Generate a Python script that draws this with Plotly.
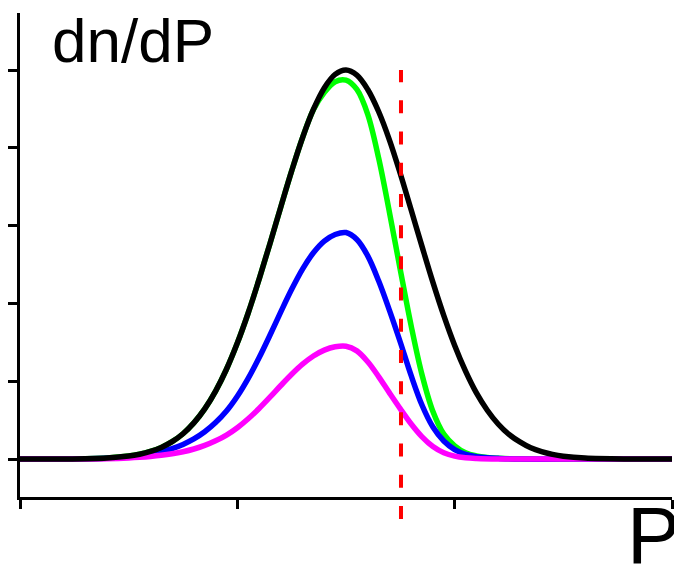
import plotly.graph_objects as go

# ---------------- data ----------------
# P axis: ticks at 0,1,2,3 ; dn/dP axis: ticks at 0..5
x_ticks = [0, 1, 2, 3]
y_ticks = [0, 1, 2, 3, 4, 5]

black_P = [0.0, 0.2, 0.4, 0.5, 0.55, 0.6, 0.65, 0.7, 0.75, 0.8, 0.85, 0.9, 0.95, 1.0,
           1.05, 1.1, 1.15, 1.2, 1.25, 1.3, 1.35, 1.4, 1.45, 1.5, 1.55, 1.6, 1.65,
           1.7, 1.75, 1.8, 1.85, 1.9, 1.95, 2.0, 2.05, 2.1, 2.15, 2.2, 2.25, 2.3,
           2.35, 2.4, 2.45, 2.5, 2.6, 2.8, 3.0]
black_n = [0.0, 0.001, 0.014, 0.038, 0.062, 0.098, 0.149, 0.223, 0.325, 0.464, 0.644, 0.873, 1.154, 1.49,
           1.877, 2.31, 2.768, 3.24, 3.703, 4.13, 4.493, 4.77, 4.944, 5.0, 4.934, 4.75, 4.467,
           4.10, 3.667, 3.20, 2.73, 2.27, 1.843, 1.46, 1.13, 0.85, 0.627, 0.45, 0.316, 0.22,
           0.144, 0.094, 0.06, 0.037, 0.013, 0.001, 0.0]

green_P = [0.0, 0.2, 0.4, 0.5, 0.55, 0.6, 0.65, 0.7, 0.75, 0.8, 0.85, 0.9, 0.95, 1.0,
           1.05, 1.1, 1.15, 1.2, 1.25, 1.3, 1.35, 1.4, 1.45, 1.5, 1.55, 1.6, 1.65,
           1.7, 1.75, 1.8, 1.85, 1.9, 1.95, 2.0, 2.05, 2.1, 2.15, 2.2, 2.3, 2.6, 3.0]
green_n = [0.0, 0.001, 0.014, 0.038, 0.062, 0.098, 0.149, 0.223, 0.325, 0.464, 0.644, 0.873, 1.154, 1.49,
           1.877, 2.31, 2.768, 3.24, 3.703, 4.13, 4.49, 4.71, 4.85, 4.87, 4.75, 4.43, 3.87,
           3.17, 2.43, 1.71, 1.08, 0.61, 0.32, 0.17, 0.08, 0.04, 0.02, 0.01, 0.0, 0.0, 0.0]

blue_P = [0.0, 0.2, 0.4, 0.5, 0.55, 0.6, 0.65, 0.7, 0.75, 0.8, 0.85, 0.9, 0.95, 1.0,
          1.05, 1.1, 1.15, 1.2, 1.25, 1.3, 1.35, 1.4, 1.45, 1.5, 1.55, 1.6, 1.65,
          1.7, 1.75, 1.8, 1.85, 1.9, 1.95, 2.0, 2.05, 2.1, 2.15, 2.2, 2.3, 2.6, 3.0]
blue_n = [0.0, 0.001, 0.010, 0.027, 0.043, 0.065, 0.095, 0.135, 0.188, 0.258, 0.35, 0.468, 0.616, 0.806,
          1.036, 1.301, 1.591, 1.891, 2.181, 2.441, 2.651, 2.801, 2.886, 2.911, 2.821, 2.611, 2.291,
          1.911, 1.501, 1.071, 0.691, 0.411, 0.231, 0.121, 0.061, 0.031, 0.016, 0.009, 0.0, 0.0, 0.0]

magenta_P = [0.0, 0.2, 0.4, 0.5, 0.55, 0.6, 0.65, 0.7, 0.75, 0.8, 0.85, 0.9, 0.95, 1.0,
             1.05, 1.1, 1.15, 1.2, 1.25, 1.3, 1.35, 1.4, 1.45, 1.5, 1.55, 1.6, 1.65,
             1.7, 1.75, 1.8, 1.85, 1.9, 1.95, 2.0, 2.05, 2.1, 2.2, 2.6, 3.0]
magenta_n = [0.0, 0.001, 0.005, 0.0135, 0.0215, 0.0325, 0.0475, 0.0675, 0.094, 0.129, 0.175, 0.234, 0.308, 0.403,
             0.518, 0.65, 0.795, 0.945, 1.09, 1.22, 1.325, 1.40, 1.443, 1.45, 1.39, 1.25, 1.06,
             0.85, 0.645, 0.45, 0.285, 0.16, 0.08, 0.037, 0.016, 0.007, 0.0, 0.0, 0.0]

cutoff_P = 1.753          # red dashed line position
cutoff_n = [-0.77, 5.0]   # its vertical extent (in dn/dP units)

x_range = [0, 3]
y_range = [-0.488, 5.733]

# ---------------- figure ----------------
fig = go.Figure()
series = [
    (green_P, green_n, "#00FF00"),
    (blue_P, blue_n, "#0000FF"),
    (magenta_P, magenta_n, "#FF00FF"),
    (black_P, black_n, "#000000"),
]
for xs, ys, col in series:
    fig.add_trace(go.Scatter(x=xs, y=ys, mode="lines",
                             line=dict(color=col, width=5.5, shape="spline", smoothing=1.0),
                             hoverinfo="skip", showlegend=False))

def to_paper(v):
    return (v - y_range[0]) / (y_range[1] - y_range[0])

fig.add_shape(type="line", xref="x", yref="paper",
              x0=cutoff_P, x1=cutoff_P,
              y0=to_paper(cutoff_n[0]), y1=to_paper(cutoff_n[1]),
              line=dict(color="#FF0000", width=4, dash="13px,18.2px"))

fig.add_annotation(text="dn/dP", xref="paper", yref="paper", x=0.046, y=1.019,
                   xanchor="left", yanchor="top", showarrow=False,
                   font=dict(family="Liberation Sans, Arial, sans-serif", size=62, color="black"))
fig.add_annotation(text="P", xref="paper", yref="paper", x=0.928, y=0.017,
                   xanchor="left", yanchor="top", showarrow=False,
                   font=dict(family="Liberation Sans, Arial, sans-serif", size=80, color="black"))

axis_common = dict(showgrid=False, zeroline=False, showline=True, linecolor="black",
                   linewidth=2.5, ticks="outside", ticklen=9, tickwidth=2.5,
                   tickcolor="black", showticklabels=False)
fig.update_xaxes(range=x_range, tickvals=x_ticks, **axis_common)
fig.update_yaxes(range=y_range, tickvals=y_ticks, **axis_common)

fig.update_layout(width=674, height=566,
                  margin=dict(l=20, r=2, t=13, b=69),
                  plot_bgcolor="white", paper_bgcolor="white")

fig.write_html("out.html", config={"displayModeBar": False},
               post_script="document.body.style.margin='0px';document.body.style.overflow='hidden';")
